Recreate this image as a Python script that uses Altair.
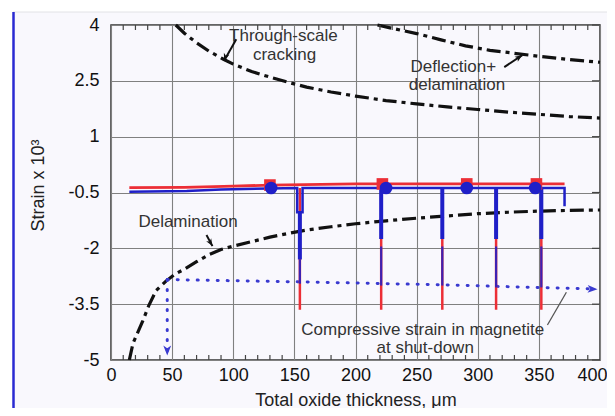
import altair as alt
import pandas as pd

FONT = "Liberation Sans"
BLUE = "#1f1fc8"
RED = "#ec2e36"
DOT_BLUE = "#3a3ad0"
INK = "#333333"

# ---- axis ticks ----
x_ticks = [0, 50, 100, 150, 200, 250, 300, 350, 400]
y_ticks = [-5, -3.5, -2, -0.5, 1, 2.5, 4]
x_minor = [10, 20, 30, 40, 60, 70, 80, 90, 110, 120, 130, 140, 160, 170, 180, 190,
           210, 220, 230, 240, 260, 270, 280, 290, 310, 320, 330, 340, 360, 370, 380, 390]

# ---- dash-dot failure curves ----
through_x = [53, 60, 70, 80, 92, 100, 115, 130, 145, 160, 180, 200, 225, 250, 275, 300, 325, 350, 375, 400]
through_y = [4.0, 3.78, 3.52, 3.3, 3.08, 2.95, 2.75, 2.6, 2.46, 2.33, 2.2, 2.09, 1.97, 1.88, 1.8, 1.73, 1.66, 1.6, 1.54, 1.5]

deflect_x = [218, 230, 250, 270, 290, 310, 330, 350, 375, 400]
deflect_y = [4.0, 3.91, 3.77, 3.6, 3.44, 3.32, 3.24, 3.16, 3.07, 3.0]

delam_x = [15, 18, 22, 26, 31, 37, 45, 52, 60, 70, 80, 90, 100, 115, 130, 145, 160, 180, 200,
           225, 250, 275, 300, 325, 350, 375, 400]
delam_y = [-5.0, -4.55, -4.25, -3.95, -3.53, -3.13, -2.88, -2.7, -2.56, -2.36, -2.17, -2.03, -1.94,
           -1.82, -1.7, -1.6, -1.51, -1.42, -1.34, -1.26, -1.19, -1.13, -1.07, -1.03, -1.0, -0.98, -0.97]

# ---- measured strain histories (red / blue) ----
red_x = [15, 60, 100, 130, 200, 371]
red_y = [-0.37, -0.36, -0.33, -0.3, -0.27, -0.27]

blue_x = [15, 62, 90, 130, 152.3, 152.3, 156.7, 156.7, 250, 371, 371]
blue_y = [-0.48, -0.46, -0.42, -0.39, -0.38, -1.03, -1.03, -0.38, -0.38, -0.38, -0.87]

drop_x = [154.5, 221, 271, 315, 352]
drop_top = [-0.38, -0.38, -0.38, -0.38, -0.38]
red_drop_bot = [-3.65, -3.65, -3.65, -3.65, -3.65]
blue_thick_top = [-1.03, -0.38, -0.38, -0.38, -0.38]
blue_thick_bot = [-2.3, -1.75, -1.75, -1.75, -1.75]
blue_thin_top = [-2.3, -1.95, -1.95, -1.95, -1.95]
blue_thin_bot = [-2.95, -3.0, -3.0, -3.05, -3.05]

square_x = [130, 222, 291, 348]
square_y = [-0.3, -0.27, -0.27, -0.27]
circle_x = [131, 225, 291, 347]
circle_y = [-0.38, -0.38, -0.38, -0.38]

# ---- dotted "compressive strain" guide ----
dot_h_x = [46, 154, 270, 392]
dot_h_y = [-2.84, -2.9, -2.98, -3.09]
dot_v_x = [46, 46]
dot_v_y = [-2.84, -4.82]
dot_head_x = [398, 46]
dot_head_y = [-3.1, -4.88]
dot_head_angle = [92, 180]

# ---- annotations ----
label_text = ["Through-scale", "cracking", "Deflection+", "delamination", "Delamination",
              "Compressive strain in magnetite", "at shut-down"]
label_x = [141, 142, 280, 283, 63, 255, 257]
label_y = [3.7, 3.2, 2.87, 2.38, -1.3, -4.2, -4.67]

arrow_x0 = [102.5, 321.7, 78.1]
arrow_y0 = [3.62, 2.87, -1.64]
arrow_x1 = [92.5, 336.4, 83.0]
arrow_y1 = [3.04, 3.19, -1.94]
arrow_angle = [200, 56, 149]

leader_x0 = [357]
leader_y0 = [-4.06]
leader_x1 = [372.5]
leader_y1 = [-3.18]

HEAD = "M0,0L0.75,1.9L0,1.4L-0.75,1.9Z"

xscale = alt.Scale(domain=[0, 400], nice=False, zero=False)
yscale = alt.Scale(domain=[-5, 4], nice=False, zero=False)

xaxis = alt.Axis(values=x_ticks, grid=True, gridColor="#808080", gridWidth=1.1, ticks=False,
                 domain=False, labelFontSize=18, labelFont=FONT, labelColor="#111",
                 labelPadding=6, labelFlush=False,
                 labelAlign={"condition": {"test": "datum.value == 400", "value": "right"},
                             "value": "center"},
                 labelOffset={"condition": {"test": "datum.value == 400", "value": 7},
                              "value": 0},
                 title="Total oxide thickness, μm",
                 titleFontSize=18, titleFont=FONT, titleFontWeight="normal", titleColor="#222",
                 titleX=244.5, titleY=45, titleBaseline="alphabetic")
yaxis = alt.Axis(values=y_ticks, grid=True, gridColor="#808080", gridWidth=1.1, ticks=False,
                 domain=False, labelFontSize=18, labelFont=FONT, labelColor="#111",
                 labelPadding=12, labelFlush=False, labelExpr="toString(datum.value)",
                 title="Strain x 10³", titleFontSize=18, titleFont=FONT,
                 titleFontWeight="normal", titleColor="#222", titleX=-68, titleY=160,
                 titleAngle=270, titleBaseline="alphabetic", titleAlign="center")


def X(f):
    return alt.X(f, type="quantitative", scale=xscale, axis=xaxis)


def Y(f):
    return alt.Y(f, type="quantitative", scale=yscale, axis=yaxis)


def df_xy(xs, ys):
    return pd.DataFrame({"x": xs, "y": ys, "i": list(range(len(xs)))})


dummy = pd.DataFrame({"a": [0]})

DASHDOT = [14, 5, 4, 5]
curve_layers = []
for xs, ys in [(through_x, through_y), (deflect_x, deflect_y), (delam_x, delam_y)]:
    curve_layers.append(
        alt.Chart(df_xy(xs, ys)).mark_line(color="#111", strokeWidth=3.2, strokeDash=DASHDOT)
        .encode(x=X("x"), y=Y("y"), order="i:Q")
    )

dot_h = alt.Chart(df_xy(dot_h_x, dot_h_y)).mark_line(
    color=DOT_BLUE, strokeWidth=3, strokeDash=[1, 9], strokeCap="round"
).encode(x=X("x"), y=Y("y"), order="i:Q")
dot_v = alt.Chart(df_xy(dot_v_x, dot_v_y)).mark_line(
    color=DOT_BLUE, strokeWidth=3, strokeDash=[1, 9], strokeCap="round"
).encode(x=X("x"), y=Y("y"), order="i:Q")
dot_heads = alt.Chart(pd.DataFrame({"x": dot_head_x, "y": dot_head_y, "a": dot_head_angle})).mark_point(
    shape=HEAD, filled=True, size=110, color=DOT_BLUE, opacity=1
).encode(x=X("x"), y=Y("y"), angle=alt.Angle("a:Q", scale=None))

red_line = alt.Chart(df_xy(red_x, red_y)).mark_line(color=RED, strokeWidth=2.8).encode(
    x=X("x"), y=Y("y"), order="i:Q")

drops = pd.DataFrame({"x": drop_x, "top": drop_top, "rb": red_drop_bot, "tt": blue_thick_top,
                      "tb": blue_thick_bot, "nt": blue_thin_top, "nb": blue_thin_bot})
red_drops = alt.Chart(drops).mark_rule(color=RED, strokeWidth=2.5).encode(
    x=X("x"), y=Y("top"), y2=alt.Y2("rb"))
blue_thin = alt.Chart(drops).mark_rule(color=BLUE, strokeWidth=2.2, opacity=0.85).encode(
    x=X("x"), y=Y("nt"), y2=alt.Y2("nb"))
blue_thick = alt.Chart(drops).mark_rule(color=BLUE, strokeWidth=4).encode(
    x=X("x"), y=Y("tt"), y2=alt.Y2("tb"))

blue_line = alt.Chart(df_xy(blue_x, blue_y)).mark_line(color=BLUE, strokeWidth=2.5).encode(
    x=X("x"), y=Y("y"), order="i:Q")

squares = alt.Chart(df_xy(square_x, square_y)).mark_square(size=135, color=RED, opacity=1).encode(
    x=X("x"), y=Y("y"))
circles = alt.Chart(df_xy(circle_x, circle_y)).mark_circle(size=160, color=BLUE, opacity=1).encode(
    x=X("x"), y=Y("y"))

labels = alt.Chart(pd.DataFrame({"x": label_x, "y": label_y, "t": label_text})).mark_text(
    font=FONT, fontSize=17, color=INK, align="center", baseline="middle"
).encode(x=X("x"), y=Y("y"), text="t:N")

arrows_df = pd.DataFrame({"x0": arrow_x0, "y0": arrow_y0, "x1": arrow_x1, "y1": arrow_y1,
                          "a": arrow_angle})
arrow_shafts = alt.Chart(arrows_df).mark_rule(color="#111", strokeWidth=2).encode(
    x=X("x0"), y=Y("y0"), x2=alt.X2("x1"), y2=alt.Y2("y1"))
arrow_heads = alt.Chart(arrows_df).mark_point(
    shape=HEAD, filled=True, size=60, color="#111", opacity=1
).encode(x=X("x1"), y=Y("y1"), angle=alt.Angle("a:Q", scale=None))

leader = alt.Chart(pd.DataFrame({"x0": leader_x0, "y0": leader_y0, "x1": leader_x1,
                                 "y1": leader_y1})).mark_rule(color="#555", strokeWidth=1.3).encode(
    x=X("x0"), y=Y("y0"), x2=alt.X2("x1"), y2=alt.Y2("y1"))

# inward minor ticks on top / bottom frame, major ticks on the right frame
tick_color = "#444"
top_ticks = alt.Chart(pd.DataFrame({"t": x_minor})).mark_rule(color=tick_color, strokeWidth=1.2).encode(
    x=X("t"), y=alt.value(0), y2=alt.value(5))
bottom_ticks = alt.Chart(pd.DataFrame({"t": x_minor})).mark_rule(color=tick_color, strokeWidth=1.2).encode(
    x=X("t"), y=alt.value(335), y2=alt.value(330))
right_ticks = alt.Chart(pd.DataFrame({"t": y_ticks})).mark_rule(color=tick_color, strokeWidth=1.2).encode(
    y=Y("t"), x=alt.value(489), x2=alt.value(481))

# slide border decorations
white_left = alt.Chart(dummy).mark_rect(color="white").encode(
    x=alt.value(-103), x2=alt.value(-98), y=alt.value(-17), y2=alt.value(383))
white_top = alt.Chart(dummy).mark_rect(color="white").encode(
    x=alt.value(-103), x2=alt.value(505), y=alt.value(-17), y2=alt.value(-13))
top_line = alt.Chart(dummy).mark_rule(color="#e2e2e6", strokeWidth=1).encode(
    x=alt.value(-98), x2=alt.value(505), y=alt.value(-13))
blue_border = alt.Chart(dummy).mark_rule(color="#2a2ad2", strokeWidth=2.5).encode(
    x=alt.value(-97.5), y=alt.value(-13), y2=alt.value(383))

chart = alt.layer(
    *curve_layers, dot_h, dot_v, dot_heads,
    red_line, red_drops, blue_thin, blue_thick, blue_line, squares, circles,
    labels, arrow_shafts, arrow_heads, leader,
    top_ticks, bottom_ticks, right_ticks,
    white_left, white_top, top_line, blue_border,
).properties(
    width=489, height=335,
    autosize=alt.AutoSizeParams(type="none"),
    padding={"left": 103, "top": 17, "right": 7, "bottom": 48},
    background="#f9f8fd",
).configure_view(stroke="#333", strokeWidth=1.5)

chart.save("out.html", embed_options={"renderer": "svg", "actions": False})
